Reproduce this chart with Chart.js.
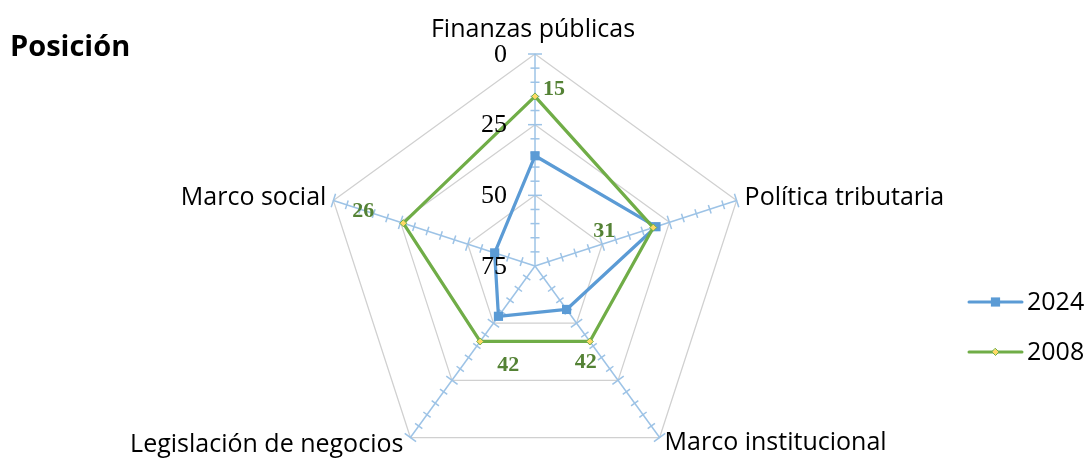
<!DOCTYPE html>
<html>
<head>
<meta charset="utf-8">
<script src="https://cdn.jsdelivr.net/npm/chart.js@4/dist/chart.umd.min.js"></script>
<style>
  html, body { margin: 0; padding: 0; background: #ffffff; overflow: hidden; }
  #wrap { width: 1089px; height: 458px; overflow: hidden; position: relative; }
  canvas { display: block; }
</style>
</head>
<body>
<div id="wrap"><canvas id="c" width="1089" height="500"></canvas></div>
<script>
// ---- data ----
const categories = ['Finanzas públicas', 'Política tributaria', 'Marco institucional', 'Legislación de negocios', 'Marco social'];
const series2024 = [36, 30, 56, 53, 60];
const series2008 = [15, 31, 42, 42, 26];
const seriesNames = ['2024', '2008'];
const tickValues = [0, 25, 50, 75];
const chartTitle = 'Posición';

// ---- styles ----
const BLUE = '#5B9BD5';
const GREEN = '#70AD47';
const LABEL_GREEN = '#548235';
const AXIS_BLUE = '#9DC3E6';
const GRID_GRAY = '#D0D0D0';
const SANS = '"Open Sans", "Noto Sans", sans-serif';
const SERIF = '"Liberation Serif", "DejaVu Serif", serif';

// offsets of the 2008 value labels relative to their points (dx, dy to text centre)
const labelOffsets2008 = [[19, -7], [-49, 4], [-4, 21], [28, 24], [-40, -12]];
// point label placement relative to outer vertex: [dx, dy(baseline), align]
const catLabelPlace = [[-2, -17, 'center'], [8, 5, 'left'], [5, 12, 'left'], [-7, 14, 'right'], [-7, 5, 'right']];

const decor = {
  id: 'decor',
  beforeDatasetsDraw(chart) {
    const s = chart.scales.r;
    const ctx = chart.ctx;
    const n = categories.length;
    ctx.save();
    // grey polygons
    ctx.strokeStyle = GRID_GRAY;
    ctx.lineWidth = 1.25;
    tickValues.forEach(v => {
      if (s.getDistanceFromCenterForValue(v) <= 0) return;
      ctx.beginPath();
      for (let i = 0; i < n; i++) {
        const p = s.getPointPositionForValue(i, v);
        if (i === 0) ctx.moveTo(p.x, p.y); else ctx.lineTo(p.x, p.y);
      }
      ctx.closePath();
      ctx.stroke();
    });
    // blue axes + tick marks
    ctx.strokeStyle = AXIS_BLUE;
    ctx.lineWidth = 1.5;
    for (let i = 0; i < n; i++) {
      const outer = s.getPointPositionForValue(i, s.min);
      ctx.beginPath();
      ctx.moveTo(s.xCenter, s.yCenter);
      ctx.lineTo(outer.x, outer.y);
      ctx.stroke();
      const a = s.getIndexAngle(i) - Math.PI / 2;
      const px = -Math.sin(a), py = Math.cos(a);
      for (let v = s.min; v < s.max; v += 5) {
        const p = s.getPointPositionForValue(i, v);
        const h = (v % 25 === 0) ? 7 : 4.5;
        ctx.beginPath();
        ctx.moveTo(p.x - px * h, p.y - py * h);
        ctx.lineTo(p.x + px * h, p.y + py * h);
        ctx.stroke();
      }
    }
    ctx.restore();
  },
  afterDatasetsDraw(chart) {
    const s = chart.scales.r;
    const ctx = chart.ctx;
    ctx.save();
    // tick labels
    ctx.fillStyle = '#000000';
    ctx.font = '26px ' + SERIF;
    ctx.textAlign = 'right';
    ctx.textBaseline = 'middle';
    tickValues.forEach(v => {
      const p = s.getPointPositionForValue(0, v);
      ctx.fillText(String(v), s.xCenter - 28, p.y + 1);
    });
    // 2008 value labels
    const meta = chart.getDatasetMeta(1);
    ctx.fillStyle = LABEL_GREEN;
    ctx.font = 'bold 22px ' + SERIF;
    ctx.textAlign = 'center';
    ctx.textBaseline = 'middle';
    meta.data.forEach((pt, i) => {
      const o = labelOffsets2008[i];
      ctx.fillText(String(series2008[i]), pt.x + o[0], pt.y + o[1]);
    });
    // category labels
    ctx.fillStyle = '#000000';
    ctx.font = '25px ' + SANS;
    ctx.textBaseline = 'alphabetic';
    categories.forEach((c, i) => {
      const p = s.getPointPositionForValue(i, s.min);
      const pl = catLabelPlace[i];
      ctx.textAlign = pl[2];
      ctx.fillText(c, p.x + pl[0], p.y + pl[1]);
    });
    // title
    ctx.font = 'bold 29px ' + SANS;
    ctx.textAlign = 'left';
    ctx.fillText(chartTitle, 10, 56);
    // legend
    const legendY = [302, 352];
    chart.data.datasets.forEach((ds, k) => {
      const y = legendY[k];
      ctx.strokeStyle = ds.borderColor;
      ctx.lineWidth = 3;
      ctx.lineCap = 'round';
      ctx.beginPath();
      ctx.moveTo(969, y);
      ctx.lineTo(1022, y);
      ctx.stroke();
      ctx.fillStyle = ds.pointBackgroundColor;
      ctx.strokeStyle = ds.pointBorderColor;
      ctx.lineWidth = ds.pointBorderWidth;
      ctx.beginPath();
      if (ds.pointStyle === 'rect') {
        const r = ds.pointRadius * Math.SQRT1_2;
        ctx.rect(995.5 - r, y - r, 2 * r, 2 * r);
      } else {
        const r = ds.pointRadius;
        ctx.moveTo(995.5, y - r); ctx.lineTo(995.5 + r, y); ctx.lineTo(995.5, y + r); ctx.lineTo(995.5 - r, y); ctx.closePath();
      }
      ctx.fill();
      if (ds.pointBorderWidth) ctx.stroke();
      ctx.fillStyle = '#000000';
      ctx.font = '25px ' + SANS;
      ctx.textAlign = 'left';
      ctx.textBaseline = 'middle';
      ctx.fillText(seriesNames[k], 1027, y + 1);
    });
    ctx.restore();
  }
};

new Chart(document.getElementById('c'), {
  type: 'radar',
  data: {
    labels: categories,
    datasets: [
      {
        label: seriesNames[0], data: series2024, order: 2,
        borderColor: BLUE, backgroundColor: 'rgba(0,0,0,0)', borderWidth: 3.25, fill: false,
        pointStyle: 'rect', pointRadius: 6.5, pointBorderWidth: 0,
        pointBackgroundColor: BLUE, pointBorderColor: BLUE, tension: 0
      },
      {
        label: seriesNames[1], data: series2008, order: 1,
        borderColor: GREEN, backgroundColor: 'rgba(0,0,0,0)', borderWidth: 3.25, fill: false,
        pointStyle: 'rectRot', pointRadius: 3.5, pointBorderWidth: 1,
        pointBackgroundColor: '#FFD966', pointBorderColor: GREEN, tension: 0
      }
    ]
  },
  options: {
    responsive: false,
    animation: false,
    devicePixelRatio: 1,
    layout: { padding: { left: 323, right: 342, top: 54, bottom: 22 } },
    plugins: { legend: { display: false }, tooltip: { enabled: false }, title: { display: false } },
    elements: { line: { borderJoinStyle: 'round' } },
    scales: {
      r: {
        min: 0, max: 75, reverse: true,
        ticks: { display: false, stepSize: 25 },
        grid: { display: false },
        angleLines: { display: false },
        pointLabels: { display: false }
      }
    }
  },
  plugins: [decor]
});
</script>
</body>
</html>
